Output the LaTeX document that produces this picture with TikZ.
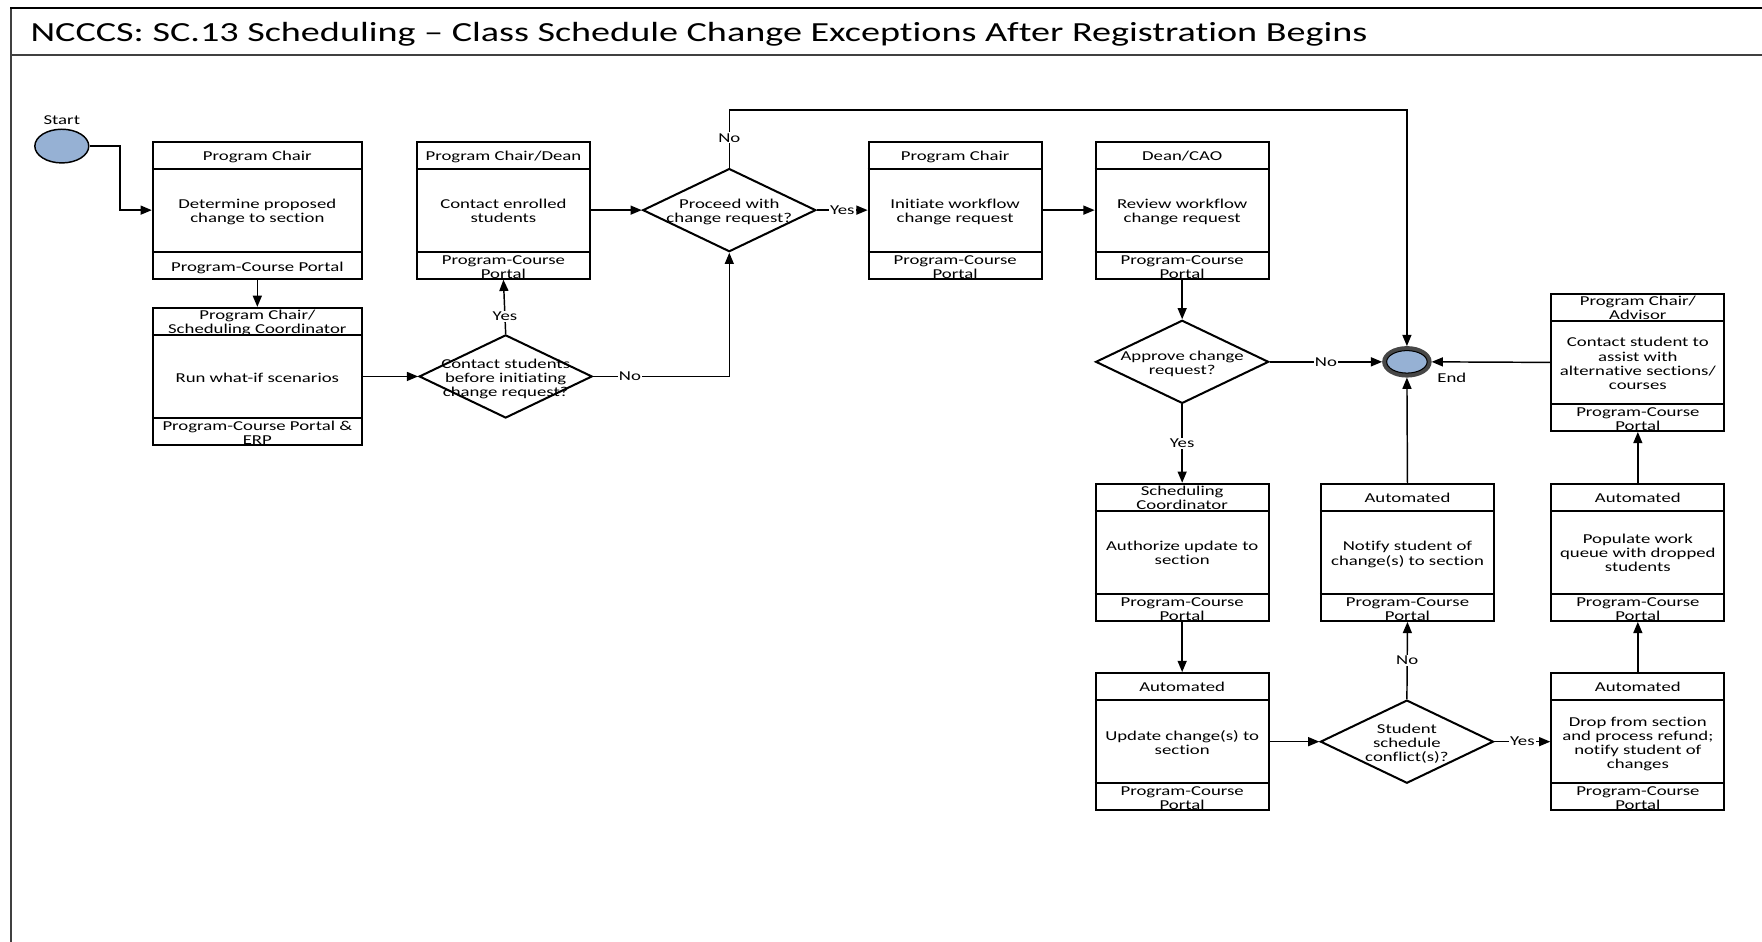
\documentclass[tikz,border=0pt]{standalone}
\usepackage{fontspec}
\setmainfont{Carlito}[FakeStretch=1.38, Ligatures=NoCommon]
\usetikzlibrary{arrows.meta,shapes.geometric,calc}

\definecolor{evfill}{RGB}{150,177,212}
\definecolor{framegray}{gray}{0.25}

\tikzset{
  boxframe/.style={draw, line width=1.8pt, minimum height=122pt, inner sep=0pt},
  boxtext/.style={font=\fontsize{12.1}{12.5}\selectfont, align=center, inner sep=0pt, yshift=-2.5pt},
  evlabel/.style={font=\fontsize{12.1}{12.5}\selectfont, inner sep=0pt},
  decision/.style={draw, diamond, line width=1.8pt, minimum width=154pt, minimum height=74pt, inner sep=0pt},
  flow/.style={line width=1.3pt, -{Triangle[length=10pt,width=8pt]}},
  flowlabel/.style={font=\fontsize{12.1}{12.5}\selectfont, fill=white, inner sep=1pt},
  event/.style={ellipse, fill=evfill, inner sep=0pt},
}

% process box: name, x, y, width, role, task, system
\newcommand{\flowbox}[7]{%
  \node[boxframe, minimum width=#4pt] (#1) at (#2,#3) {};
  \draw[line width=1.8pt] ($(#1.north west)+(0,25)$) -- ($(#1.north east)+(0,25)$);
  \draw[line width=1.8pt] ($(#1.south west)+(0,-25)$) -- ($(#1.south east)+(0,-25)$);
  \node[boxtext] (#1-h) at ($(#1.north)+(0,12.5)$) {\strut#5\strut};
  \node[boxtext] (#1-b) at (#1.center) {\strut#6\strut};
  \node[boxtext] (#1-f) at ($(#1.south)+(0,-12.5)$) {\strut#7\strut};
}

\begin{document}
\begin{tikzpicture}[x=1pt,y=-1pt]
\useasboundingbox (0,0) rectangle (1568,838);
\clip (0,0) rectangle (1568,838);

% page frame and title bar
\draw[framegray, line width=2.2pt] (10,850) -- (10,7);
\draw[black, line width=2pt] (9,7) -- (1580,7);
\draw[framegray, line width=2pt] (10,49) -- (1580,49);
\node[anchor=west, font=\fontsize{24.6}{28}\selectfont, inner sep=0pt] (title) at (27,30.5)
  {NCCCS: SC.13 Scheduling -- Class Schedule Change Exceptions After Registration Begins};

% start and end events
\node[event, draw, line width=1.3pt, minimum width=48pt, minimum height=30pt] (start) at (55,130) {};
\node[evlabel] (start-l) at (55,107) {Start};
\node[event, draw=black!72, line width=4pt, minimum width=40pt, minimum height=24pt] (end) at (1252,322) {};
\draw[line width=0.9pt] (end.center) ellipse [x radius=18, y radius=10];
\node[evlabel] (end-l) at (1292,336) {End};

% process boxes
\flowbox{b1}{229}{187}{186}{Program Chair}{Determine proposed\\change to section}{Program-Course Portal}
\flowbox{b2}{229}{335}{186}{Program Chair/\\Scheduling Coordinator}{Run what-if scenarios}{Program-Course Portal \&\\ERP}
\flowbox{b3}{448}{187}{154}{Program Chair/Dean}{Contact enrolled\\students}{Program-Course\\Portal}
\flowbox{b4}{850}{187}{154}{Program Chair}{Initiate workflow\\change request}{Program-Course\\Portal}
\flowbox{b5}{1052}{187}{154}{Dean/CAO}{Review workflow\\change request}{Program-Course\\Portal}
\flowbox{b6}{1052}{491.5}{154}{Scheduling\\Coordinator}{Authorize update to\\section}{Program-Course\\Portal}
\flowbox{b7}{1052}{660}{154}{Automated}{Update change(s) to\\section}{Program-Course\\Portal}
\flowbox{b8}{1252.5}{491.5}{154}{Automated}{Notify student of\\change(s) to section}{Program-Course\\Portal}
\flowbox{b9}{1457.5}{660}{154}{Automated}{Drop from section\\and process refund;\\notify student of\\changes}{Program-Course\\Portal}
\flowbox{b10}{1457.5}{491.5}{154}{Automated}{Populate work\\queue with dropped\\students}{Program-Course\\Portal}
\flowbox{b11}{1457.5}{322.5}{154}{Program Chair/\\Advisor}{Contact student to\\assist with\\alternative sections/\\courses}{Program-Course\\Portal}

% decisions
\node[decision] (d1) at (450,335) {};
\node[boxtext] (d1-t) at (d1) {\strut Contact students\\before initiating\\change request?\strut};
\node[decision] (d2) at (649,187) {};
\node[boxtext] (d2-t) at (d2) {\strut Proceed with\\change request?\strut};
\node[decision] (d3) at (1052,322) {};
\node[boxtext] (d3-t) at (d3) {\strut Approve change\\request?\strut};
\node[decision] (d4) at (1252,660) {};
\node[boxtext] (d4-t) at (d4) {\strut Student\\schedule\\conflict(s)?\strut};

% connectors
\coordinate (noroute) at (1252,98);
\draw[flow] (start.east) -- ++(27,0) |- (b1.west);
\draw[flow] (b1.south) -- (b2.north);
\draw[flow] (b2.east) -- (d1.west);
\draw[flow] (d1.north) -- node[flowlabel, pos=0.32] {Yes} (b3.south);
\draw[flow] (d1.east) -| node[flowlabel, pos=0.135] {No} (d2.south);
\draw[flow] (b3.east) -- (d2.west);
\draw[flow] (d2.east) -- node[flowlabel] {Yes} (b4.west);
\draw[flow] (d2.north) |- node[flowlabel, pos=0.26] {No} (noroute) -- (end.north);
\draw[flow] (b4.east) -- (b5.west);
\draw[flow] (b5.south) -- (d3.north);
\draw[flow] (d3.east) -- node[flowlabel] {No} (end.west);
\draw[flow] (d3.south) -- node[flowlabel] {Yes} (b6.north);
\draw[flow] (b6.south) -- (b7.north);
\draw[flow] (b7.east) -- (d4.west);
\draw[flow] (d4.north) -- node[flowlabel] {No} (b8.south);
\draw[flow] (d4.east) -- node[flowlabel] {Yes} (b9.west);
\draw[flow] (b8.north) -- (end.south);
\draw[flow] (b9.north) -- (b10.south);
\draw[flow] (b10.north) -- (b11.south);
\draw[flow] (b11.west) -- (end.east);
\end{tikzpicture}
\end{document}
